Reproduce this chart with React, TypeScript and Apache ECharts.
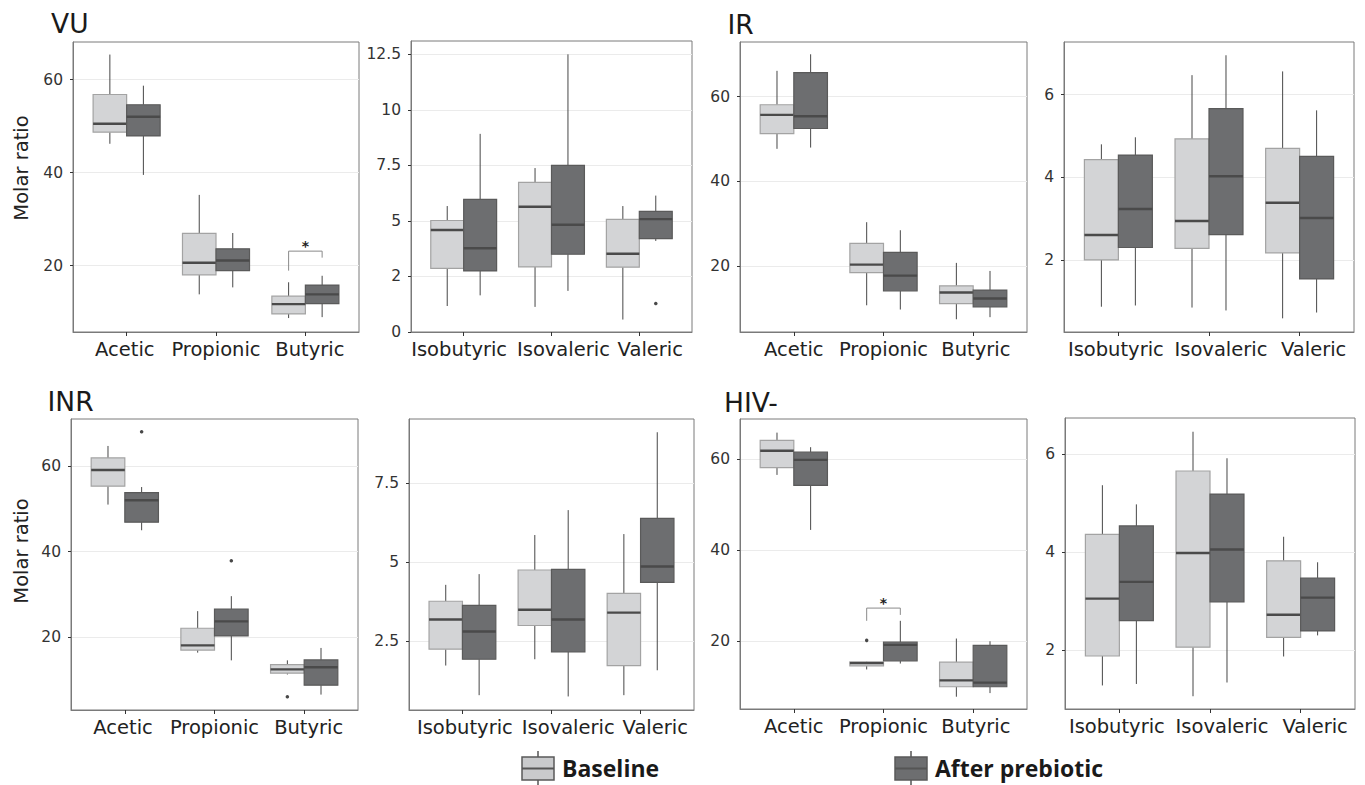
import React, { useEffect, useRef } from 'react';
import * as echarts from 'echarts';

const leftCategories = ['Acetic', 'Propionic', 'Butyric'];
const rightCategories = ['Isobutyric', 'Isovaleric', 'Valeric'];
const groupNames = ['Baseline', 'After prebiotic'];
const panelTitles = ['VU', 'IR', 'INR', 'HIV-'];

// each box: [low whisker, Q1, median, Q3, high whisker]
const vuMajorBaseline = [[46.2, 48.7, 50.5, 56.8, 65.4], [13.8, 18.0, 20.6, 26.9, 35.2], [8.7, 9.6, 11.7, 13.4, 16.4]];
const vuMajorAfter = [[39.5, 47.9, 52.0, 54.6, 58.7], [15.3, 18.9, 21.1, 23.6, 27.0], [8.9, 11.8, 13.8, 15.8, 17.8]];
const vuMinorBaseline = [[1.17, 2.86, 4.59, 5.02, 5.67], [1.13, 2.93, 5.64, 6.74, 7.38], [0.56, 2.92, 3.52, 5.07, 5.67]];
const vuMinorAfter = [[1.65, 2.75, 3.77, 5.97, 8.92], [1.85, 3.5, 4.83, 7.5, 12.5], [4.1, 4.2, 5.08, 5.43, 6.14]];
const vuMinorAfterOutliers = [[2, 1.28]];

const irMajorBaseline = [[47.7, 51.3, 55.7, 58.1, 66.1], [10.8, 18.5, 20.4, 25.4, 30.4], [7.5, 11.2, 13.8, 15.4, 20.8]];
const irMajorAfter = [[48.0, 52.5, 55.4, 65.7, 70.0], [9.8, 14.2, 17.8, 23.3, 28.5], [8.0, 10.4, 12.4, 14.4, 18.9]];
const irMinorBaseline = [[0.88, 2.01, 2.61, 4.43, 4.8], [0.86, 2.29, 2.95, 4.93, 6.47], [0.6, 2.18, 3.39, 4.7, 6.56]];
const irMinorAfter = [[0.91, 2.31, 3.24, 4.54, 4.97], [0.79, 2.62, 4.03, 5.66, 6.95], [0.74, 1.55, 3.02, 4.51, 5.62]];

const inrMajorBaseline = [[51.0, 55.3, 59.1, 61.9, 64.7], [16.4, 17.0, 18.1, 22.1, 26.1], [11.3, 11.6, 12.5, 13.6, 14.6]];
const inrMajorAfter = [[45.0, 46.9, 52.0, 53.8, 55.1], [14.6, 20.3, 23.7, 26.6, 29.6], [6.6, 8.8, 13.0, 14.7, 17.5]];
const inrMajorBaselineOutliers = [[2, 6.1]];
const inrMajorAfterOutliers = [[0, 68.0], [1, 37.9]];
const inrMinorBaseline = [[1.72, 2.24, 3.18, 3.76, 4.28], [1.92, 2.99, 3.49, 4.75, 5.86], [0.78, 1.72, 3.4, 4.01, 5.89]];
const inrMinorAfter = [[0.78, 1.92, 2.8, 3.63, 4.62], [0.74, 2.15, 3.18, 4.77, 6.65], [1.57, 4.36, 4.86, 6.39, 9.12]];

const hivMajorBaseline = [[56.6, 58.2, 61.9, 64.2, 65.9], [13.8, 14.6, 15.2, 15.5, 15.6], [7.8, 10.0, 11.4, 15.4, 20.6]];
const hivMajorAfter = [[44.5, 54.3, 59.9, 61.6, 62.7], [15.1, 15.7, 19.2, 19.8, 24.5], [8.6, 10.0, 10.9, 19.1, 20.0]];
const hivMajorBaselineOutliers = [[1, 20.2]];
const hivMinorBaseline = [[1.28, 1.88, 3.05, 4.36, 5.36], [1.06, 2.06, 3.98, 5.65, 6.45], [1.87, 2.26, 2.72, 3.82, 4.31]];
const hivMinorAfter = [[1.31, 2.6, 3.39, 4.53, 4.97], [1.34, 2.98, 4.05, 5.18, 5.91], [2.3, 2.39, 3.07, 3.47, 3.79]];

// significance bracket: [category index, bracket level, left end, right end]
const vuMajorSignif = [[2, 23.1, 18.9, 21.7]];
const hivMajorSignif = [[1, 27.3, 24.5, 25.8]];

const majorTicks = [20, 40, 60];
const majorTickLabels = ['20', '40', '60'];
const vuMinorTicks = [0, 2.5, 5, 7.5, 10, 12.5];
const vuMinorTickLabels = ['0', '2', '5', '7.5', '10', '12.5'];
const irMinorTicks = [2, 4, 6];
const irMinorTickLabels = ['2', '4', '6'];
const inrMinorTicks = [2.5, 5, 7.5];
const inrMinorTickLabels = ['2.5', '5', '7.5'];
const hivMinorTicks = [2, 4, 6];
const hivMinorTickLabels = ['2', '4', '6'];

const yRanges = [[5.7, 68.1], [0, 13.1], [4.5, 72.9], [0.27, 7.27], [3.0, 71.0], [0.31, 9.54], [5.1, 68.9], [0.8, 6.73]];

const FONT = 'DejaVu Sans';
const BOX_HALF = 0.1875;
const FRAME = '#7a7a7a';
const BASE_FILL = '#d3d4d6';
const BASE_STROKE = '#a3a3a3';
const AFTER_FILL = '#6d6e70';
const AFTER_STROKE = '#5a5a5a';

// horizontal nudges of the category labels (axis units), as placed in the figure
const labelNudges = [
  [-0.02, 0, 0.05],
  [-0.052, 0.136, 0.125],
  [0, 0, 0.03],
  [-0.028, 0.132, 0.155],
  [-0.02, 0, 0.05],
  [0.027, 0.188, 0.165],
  [0, 0, 0.03],
  [-0.028, 0.133, 0.16],
];

const panels = [
  { cats: leftCategories, base: vuMajorBaseline, after: vuMajorAfter, baseOut: [], afterOut: [], signif: vuMajorSignif, ticks: majorTicks, labels: majorTickLabels },
  { cats: rightCategories, base: vuMinorBaseline, after: vuMinorAfter, baseOut: [], afterOut: vuMinorAfterOutliers, signif: [], ticks: vuMinorTicks, labels: vuMinorTickLabels },
  { cats: leftCategories, base: irMajorBaseline, after: irMajorAfter, baseOut: [], afterOut: [], signif: [], ticks: majorTicks, labels: majorTickLabels },
  { cats: rightCategories, base: irMinorBaseline, after: irMinorAfter, baseOut: [], afterOut: [], signif: [], ticks: irMinorTicks, labels: irMinorTickLabels },
  { cats: leftCategories, base: inrMajorBaseline, after: inrMajorAfter, baseOut: inrMajorBaselineOutliers, afterOut: inrMajorAfterOutliers, signif: [], ticks: majorTicks, labels: majorTickLabels },
  { cats: rightCategories, base: inrMinorBaseline, after: inrMinorAfter, baseOut: [], afterOut: [], signif: [], ticks: inrMinorTicks, labels: inrMinorTickLabels },
  { cats: leftCategories, base: hivMajorBaseline, after: hivMajorAfter, baseOut: hivMajorBaselineOutliers, afterOut: [], signif: hivMajorSignif, ticks: majorTicks, labels: majorTickLabels },
  { cats: rightCategories, base: hivMinorBaseline, after: hivMinorAfter, baseOut: [], afterOut: [], signif: [], ticks: hivMinorTicks, labels: hivMinorTickLabels },
];

const gridLayout = [
  { left: 73, top: 42, width: 286, height: 290 },
  { left: 411, top: 41, width: 281, height: 291 },
  { left: 740, top: 42, width: 287, height: 290 },
  { left: 1064, top: 42, width: 290, height: 290 },
  { left: 71, top: 419, width: 287, height: 291 },
  { left: 409, top: 419, width: 285, height: 291 },
  { left: 740, top: 419, width: 287, height: 290 },
  { left: 1065, top: 418, width: 290, height: 291 },
];

function makeBoxRenderer(offset: number, fill: string, stroke: string) {
  return (params: any, api: any) => {
    const ci = api.value(0);
    const low = api.value(1);
    const q1 = api.value(2);
    const med = api.value(3);
    const q3 = api.value(4);
    const high = api.value(5);
    const xc = ci + offset;
    const tl = api.coord([xc - BOX_HALF, q3]);
    const br = api.coord([xc + BOX_HALF, q1]);
    const top = api.coord([xc, high]);
    const bot = api.coord([xc, low]);
    const mL = api.coord([xc - BOX_HALF, med]);
    const mR = api.coord([xc + BOX_HALF, med]);
    return {
      type: 'group',
      children: [
        { type: 'line', shape: { x1: top[0], y1: top[1], x2: top[0], y2: tl[1] }, style: { stroke: '#474747', lineWidth: 1 } },
        { type: 'line', shape: { x1: bot[0], y1: br[1], x2: bot[0], y2: bot[1] }, style: { stroke: '#474747', lineWidth: 1 } },
        { type: 'rect', shape: { x: tl[0], y: tl[1], width: br[0] - tl[0], height: br[1] - tl[1] }, style: { fill, stroke, lineWidth: 1.2 } },
        { type: 'line', shape: { x1: mL[0], y1: mL[1], x2: mR[0], y2: mR[1] }, style: { stroke: '#4a4a4a', lineWidth: 2.4 } },
      ],
    };
  };
}

function signifRenderer(params: any, api: any) {
  const ci = api.value(0);
  const yTop = api.value(1);
  const yL = api.value(2);
  const yR = api.value(3);
  const pLT = api.coord([ci - BOX_HALF, yTop]);
  const pLB = api.coord([ci - BOX_HALF, yL]);
  const pRT = api.coord([ci + BOX_HALF, yTop]);
  const pRB = api.coord([ci + BOX_HALF, yR]);
  return {
    type: 'group',
    children: [
      { type: 'polyline', shape: { points: [pLB, pLT, pRT, pRB] }, style: { stroke: '#8a8a8a', lineWidth: 1, fill: 'none' } },
      { type: 'text', x: (pLT[0] + pRT[0]) / 2, y: pLT[1] - 5, style: { text: '*', fontSize: 14, fontWeight: 'bold', fill: '#222', align: 'center', verticalAlign: 'middle', fontFamily: FONT } },
    ],
  };
}

function buildOption() {
  const grid: any[] = [];
  const xAxis: any[] = [];
  const yAxis: any[] = [];
  const series: any[] = [];

  panels.forEach((p, i) => {
    grid.push({ ...gridLayout[i], show: true, borderColor: FRAME, borderWidth: 1, backgroundColor: 'transparent' });
    const labelPositions = p.cats.map((_, k) => k + labelNudges[i][k]);
    xAxis.push({
      gridIndex: i,
      type: 'value',
      min: -0.6,
      max: 2.6,
      splitLine: { show: false },
      axisLine: { show: true, onZero: false, lineStyle: { color: FRAME } },
      axisTick: { show: true, customValues: [0, 1, 2], length: 4, lineStyle: { color: '#333' } },
      axisLabel: {
        customValues: labelPositions,
        formatter: (v: number) => p.cats[Math.round(v)],
        fontSize: 19.5,
        color: '#222',
        fontFamily: FONT,
        margin: 7,
        hideOverlap: false,
      },
    });
    yAxis.push({
      gridIndex: i,
      type: 'value',
      min: yRanges[i][0],
      max: yRanges[i][1],
      axisLine: { show: true, onZero: false, lineStyle: { color: FRAME } },
      axisTick: { show: true, customValues: p.ticks, length: 3, lineStyle: { color: '#333' } },
      axisLabel: {
        customValues: p.ticks,
        formatter: (v: number) => {
          const k = p.ticks.findIndex((t) => Math.abs(t - v) < 1e-6);
          return k >= 0 ? p.labels[k] : '';
        },
        fontSize: 15.5,
        color: '#333',
        fontFamily: FONT,
        margin: 10,
      },
      splitLine: { show: true, lineStyle: { color: '#ebebeb', width: 1 } },
    });

    const baseData = p.base.map((b, ci) => [ci, ...b]);
    const afterData = p.after.map((b, ci) => [ci, ...b]);
    series.push({
      type: 'custom',
      name: groupNames[0],
      xAxisIndex: i,
      yAxisIndex: i,
      renderItem: makeBoxRenderer(-BOX_HALF, BASE_FILL, BASE_STROKE),
      data: baseData,
      encode: { x: 0, y: [1, 2, 3, 4, 5] },
      z: 3,
    });
    series.push({
      type: 'custom',
      name: groupNames[1],
      xAxisIndex: i,
      yAxisIndex: i,
      renderItem: makeBoxRenderer(BOX_HALF, AFTER_FILL, AFTER_STROKE),
      data: afterData,
      encode: { x: 0, y: [1, 2, 3, 4, 5] },
      z: 3,
    });
    const outliers = [
      ...p.baseOut.map((o) => [o[0] - BOX_HALF, o[1]]),
      ...p.afterOut.map((o) => [o[0] + BOX_HALF, o[1]]),
    ];
    if (outliers.length) {
      series.push({
        type: 'scatter',
        xAxisIndex: i,
        yAxisIndex: i,
        data: outliers,
        symbol: 'circle',
        symbolSize: 3.5,
        itemStyle: { color: '#1a1a1a' },
        z: 4,
      });
    }
    if (p.signif.length) {
      series.push({
        type: 'custom',
        xAxisIndex: i,
        yAxisIndex: i,
        renderItem: signifRenderer,
        data: p.signif,
        encode: { x: 0, y: [1, 2, 3] },
        z: 5,
      });
    }
  });

  const titleStyle = { fontSize: 26.5, fill: '#1a1a1a', fontFamily: FONT, verticalAlign: 'middle' };
  const legendText = { fontSize: 23, fontWeight: 'bold', fill: '#1a1a1a', fontFamily: 'Open Sans', verticalAlign: 'middle' };
  const legendIcon = (x: number, fill: string) => ({
    type: 'group',
    children: [
      { type: 'line', shape: { x1: x + 16, y1: 751, x2: x + 16, y2: 785 }, style: { stroke: '#555', lineWidth: 1.5 } },
      { type: 'rect', shape: { x, y: 757, width: 32, height: 23 }, style: { fill, stroke: '#5a5a5a', lineWidth: 1.5 } },
      { type: 'line', shape: { x1: x, y1: 768.5, x2: x + 32, y2: 768.5 }, style: { stroke: '#555', lineWidth: 2 } },
    ],
  });

  const graphic: any[] = [
    { type: 'text', x: 51, y: 23, style: { ...titleStyle, text: panelTitles[0] } },
    { type: 'text', x: 727.5, y: 24, style: { ...titleStyle, text: panelTitles[1] } },
    { type: 'text', x: 47.5, y: 401, style: { ...titleStyle, text: panelTitles[2] } },
    { type: 'text', x: 724, y: 402.5, style: { ...titleStyle, text: panelTitles[3] } },
    { type: 'text', x: 21, y: 168, rotation: Math.PI / 2, style: { text: 'Molar ratio', fontSize: 19.5, fill: '#222', fontFamily: FONT, align: 'center', verticalAlign: 'middle' } },
    { type: 'text', x: 21, y: 551, rotation: Math.PI / 2, style: { text: 'Molar ratio', fontSize: 19.5, fill: '#222', fontFamily: FONT, align: 'center', verticalAlign: 'middle' } },
    legendIcon(522, '#c9cacc'),
    { type: 'text', x: 562, y: 768, style: { ...legendText, text: groupNames[0] } },
    legendIcon(895, AFTER_FILL),
    { type: 'text', x: 935, y: 768, style: { ...legendText, text: groupNames[1] } },
  ];

  return {
    animation: false,
    backgroundColor: '#ffffff',
    textStyle: { fontFamily: FONT },
    grid,
    xAxis,
    yAxis,
    series,
    graphic,
  };
}

export default function App() {
  const ref = useRef<HTMLDivElement>(null);
  useEffect(() => {
    if (!ref.current) return;
    const chart = echarts.init(ref.current, undefined, { renderer: 'svg' });
    chart.setOption(buildOption() as any);
    return () => chart.dispose();
  }, []);
  return <div ref={ref} style={{ position: 'fixed', left: 0, top: 0, width: 1365, height: 785 }} />;
}
